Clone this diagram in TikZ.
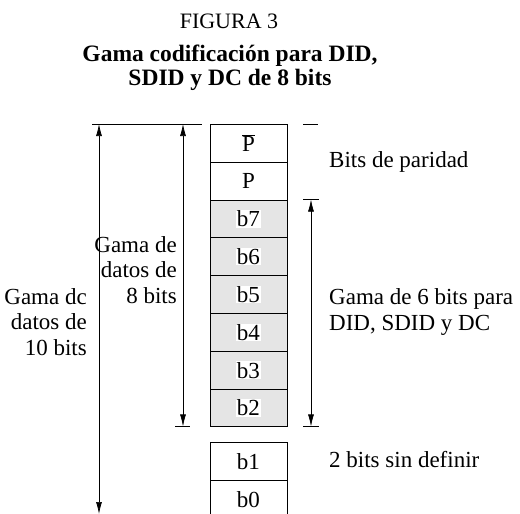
\documentclass[tikz,border=0pt]{standalone}
\usepackage{fontspec}
\setmainfont{Liberation Serif}
\usetikzlibrary{arrows.meta}
\begin{document}
\begin{tikzpicture}[x=1pt,y=-1pt,
  cell/.style={draw, line width=0.9pt, minimum width=77pt, minimum height=37.8pt, inner sep=0pt, anchor=north west},
  graycell/.style={cell, fill=black!10},
  lbl/.style={fill=white, inner sep=0.6pt, font=\fontsize{23}{26}\selectfont},
  txt/.style={font=\fontsize{23}{25.5}\selectfont, inner sep=0pt},
  ttl/.style={font=\fontsize{23.5}{24.5}\selectfont\bfseries, inner sep=0pt, align=center},
  dim/.style={{Latex[length=12pt,width=6pt]}-{Latex[length=12pt,width=6pt]}, line width=0.7pt},
  tickline/.style={line width=0.7pt}]
\clip (0,0) rectangle (520,514);
\useasboundingbox (0,0) rectangle (520,514);
% titles
\node[font=\fontsize{22}{25}\selectfont, inner sep=0pt] (fig) at (229,21) {FIGURA 3};
\node[ttl] (title) at (230,68) {Gama codificación para DID,\\SDID y DC de 8 bits};
% cells
\node[cell] (cPbar) at (209.5,124) {};
\node[cell] (cP) at (209.5,161.8) {};
\node[graycell] (c7) at (209.5,199.6) {};
\node[graycell] (c6) at (209.5,237.4) {};
\node[graycell] (c5) at (209.5,275.2) {};
\node[graycell] (c4) at (209.5,313) {};
\node[graycell] (c3) at (209.5,350.8) {};
\node[graycell] (c2) at (209.5,388.6) {};
\node[cell] (c1) at (209.5,442) {};
\node[cell] (c0) at (209.5,479.8) {};
\node[txt] (lPbar) at (cPbar.center) {$\overline{\mbox{P}}$};
\node[txt] (lP) at (cP.center) {P};
\node[lbl] (l7) at (c7.center) {b7};
\node[lbl] (l6) at (c6.center) {b6};
\node[lbl] (l5) at (c5.center) {b5};
\node[lbl] (l4) at (c4.center) {b4};
\node[lbl] (l3) at (c3.center) {b3};
\node[lbl] (l2) at (c2.center) {b2};
\node[txt] (l1) at (c1.center) {b1};
\node[txt] (l0) at (c0.center) {b0};
% left dimension lines
\coordinate (topL) at (92,124);
\coordinate (topR) at (202,124);
\draw[tickline] (topL) -- (topR);
\coordinate (tenTop) at (99,124);
\coordinate (tenBot) at (99,514);
\draw[dim] (tenTop) -- (tenBot);
\coordinate (eightTop) at (183,124);
\coordinate (eightBot) at (183,426.4);
\draw[dim] (eightTop) -- (eightBot);
\coordinate (eTickL) at (175,426.4);
\coordinate (eTickR) at (190,426.4);
\draw[tickline] (eTickL) -- (eTickR);
% right dimension lines
\coordinate (pTickL) at (303,124);
\coordinate (pTickR) at (318,124);
\draw[tickline] (pTickL) -- (pTickR);
\coordinate (sixTop) at (311,199.6);
\coordinate (sixBot) at (311,426.4);
\draw[dim] (sixTop) -- (sixBot);
\coordinate (sTopL) at (303,199.6);
\coordinate (sTopR) at (319,199.6);
\draw[tickline] (sTopL) -- (sTopR);
\coordinate (sBotL) at (303,426.4);
\coordinate (sBotR) at (319,426.4);
\draw[tickline] (sBotL) -- (sBotR);
% labels
\node[txt, align=right, anchor=east] (ten) at (87,322) {Gama dc\\datos de\\10 bits};
\node[txt, align=right, anchor=east] (eight) at (177,270) {Gama de\\datos de\\8 bits};
\node[txt, anchor=west] (par) at (329,162) {Bits de paridad};
\node[txt, align=left, anchor=west] (six) at (329,312) {Gama de 6 bits para\\DID, SDID y DC};
\node[txt, anchor=west] (undef) at (329,460) {2 bits sin definir};
\end{tikzpicture}
\end{document}
